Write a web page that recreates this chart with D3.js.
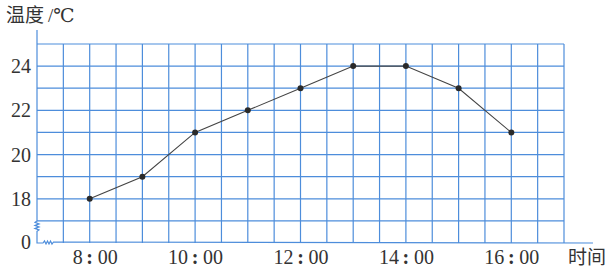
<!DOCTYPE html>
<html>
<head>
<meta charset="utf-8">
<script src="https://cdn.jsdelivr.net/npm/d3@7"></script>
<style>
  body { margin: 0; background: #fff; }
</style>
</head>
<body>
<script>
// hours of the readings and temperatures
var hours = [8, 9, 10, 11, 12, 13, 14, 15, 16];
var temps = [18, 19, 21, 22, 23, 24, 24, 23, 21];
var xTicks = [8, 10, 12, 14, 16];
var yTicks = [18, 20, 22, 24];

var width = 615, height = 274;
var gridColor = "#4d8ddb";
var serif = "'Liberation Serif', 'DejaVu Serif', serif";
var cjk = "'Noto Sans CJK SC', sans-serif";

var svg = d3.select("body").append("svg")
  .attr("width", width)
  .attr("height", height);

// 16 on the scale stands for the broken-axis "0"
var x = d3.scaleLinear().domain([7, 17]).range([37, 564]);
var y = d3.scaleLinear().domain([16, 25]).range([243, 44]);

var grid = svg.append("g")
  .attr("stroke", gridColor)
  .attr("stroke-width", 1.2)
  .attr("fill", "none");

// vertical lines each half hour
grid.selectAll("line.v")
  .data(d3.range(7.5, 17.01, 0.5))
  .enter().append("line")
  .attr("class", "v")
  .attr("x1", function(d) { return x(d); })
  .attr("x2", function(d) { return x(d); })
  .attr("y1", y(25))
  .attr("y2", y(16));

// horizontal lines each degree
grid.selectAll("line.h")
  .data(d3.range(17, 25.01, 1))
  .enter().append("line")
  .attr("class", "h")
  .attr("x1", x(7))
  .attr("x2", x(17))
  .attr("y1", function(d) { return y(d); })
  .attr("y2", function(d) { return y(d); });

// axes with the break marks
var x0 = x(7), yb = y(16);
grid.append("path")
  .attr("d", "M" + x0 + ",30 L" + x0 + "," + y(17) +
    " l-2,1.5 l4,1.5 l-4,1.5 l4,1.5 l-4,1.5 l4,1.5 l-2,1.5 L" + x0 + "," + yb +
    " L" + (x0 + 6) + "," + yb +
    " l1.5,-2 l1.5,3 l1.5,-3 l1.5,3 l1.5,-3 l1.5,3 l1.5,-2 L593," + yb);

var labels = svg.append("g")
  .attr("fill", "#333")
  .attr("font-family", serif)
  .attr("font-size", 20);

// y tick labels
labels.selectAll("text.ytick")
  .data(yTicks)
  .enter().append("text")
  .attr("x", 31)
  .attr("y", function(d) { return y(d); })
  .attr("dy", "0.35em")
  .attr("text-anchor", "end")
  .text(function(d) { return d; });

labels.append("text")
  .attr("x", 31)
  .attr("y", yb)
  .attr("dy", "0.3em")
  .attr("text-anchor", "end")
  .text("0");

// x tick labels, colon sits on the tick
var xl = labels.selectAll("g.xtick")
  .data(xTicks)
  .enter().append("g")
  .attr("transform", function(d) { return "translate(" + x(d) + ",264)"; });
xl.append("text").attr("x", -7).attr("text-anchor", "end")
  .text(function(d) { return d; });
xl.append("text").attr("x", 0).attr("text-anchor", "middle")
  .attr("font-weight", "bold").text(":");
xl.append("text").attr("x", 8).attr("text-anchor", "start").text("00");

svg.append("text")
  .attr("font-family", cjk).attr("font-size", 19).attr("fill", "#333")
  .attr("x", 568).attr("y", 264).text("时间");
var title = svg.append("text")
  .attr("font-size", 19).attr("fill", "#333")
  .attr("x", 6).attr("y", 22);
title.append("tspan").attr("font-family", cjk).text("温度");
title.append("tspan").attr("font-family", serif).attr("dx", 4).text("/℃");

// temperature line
var pts = hours.map(function(h, i) { return [h, temps[i]]; });
svg.append("path")
  .datum(pts)
  .attr("fill", "none")
  .attr("stroke", "#444")
  .attr("stroke-width", 1.1)
  .attr("d", d3.line()
    .x(function(d) { return x(d[0]); })
    .y(function(d) { return y(d[1]); }));

svg.selectAll("circle.pt")
  .data(pts)
  .enter().append("circle")
  .attr("cx", function(d) { return x(d[0]); })
  .attr("cy", function(d) { return y(d[1]); })
  .attr("r", 3)
  .attr("fill", "#2a2a2a");
</script>
</body>
</html>
